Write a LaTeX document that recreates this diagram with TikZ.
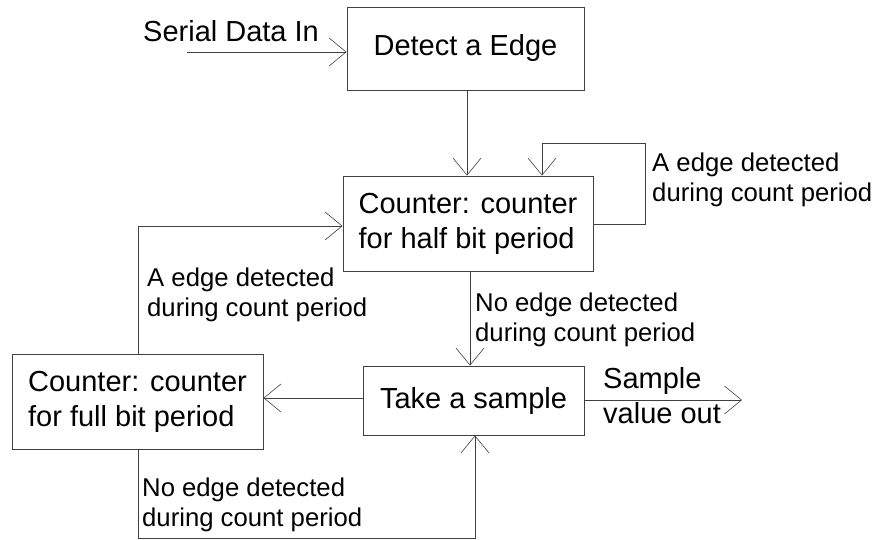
\documentclass[tikz,border=0pt]{standalone}
\usepackage{fontspec}
\setmainfont{Liberation Sans}
\usetikzlibrary{arrows.meta}

\tikzset{
  big/.style={font=\fontsize{29}{35}\selectfont},
  small/.style={font=\fontsize{25.7}{30}\selectfont},
  box/.style={draw=black!75, line width=0.9pt, fill=white, big, align=left, inner sep=0pt},
  lbl/.style={small, align=left, inner sep=0pt, anchor=north west},
  arr/.style={draw=black!75, line width=0.9pt,
    -{Straight Barb[length=17pt, width=28pt, line width=0.6pt]}},
  wire/.style={draw=black!75, line width=0.9pt}
}

\begin{document}
\begin{tikzpicture}[x=1pt, y=-1pt]
\useasboundingbox (0,0) rectangle (877,540);

% process boxes
\node[box, minimum width=237pt, minimum height=83pt] (detect) at (465.5,48.5) {Detect a Edge};
\node[box, minimum width=250pt, minimum height=95pt] (half) at (468,223.5) {Counter: counter\\for half bit period};
\node[box, minimum width=221pt, minimum height=69pt] (take) at (473.5,400.5) {Take a sample};
\node[box, minimum width=251pt, minimum height=95pt] (full) at (137.5,401.5) {Counter: counter\\for full bit period};

% free ends and bends of the connectors
\coordinate (sdin) at (187,52);
\coordinate (c1) at (467,0);
\coordinate (lp1) at (645,224);
\coordinate (lp2) at (645,143);
\coordinate (lp3) at (542,143);
\coordinate (c2) at (470,0);
\coordinate (c3) at (0,398);
\coordinate (lc) at (138,226);
\coordinate (bc1) at (138,538);
\coordinate (bc2) at (475,538);
\coordinate (out) at (742,400);

% connectors
\draw[arr] (sdin) -- (detect.west |- sdin);
\draw[arr] (detect.south -| c1) -- (half.north -| c1);
\draw[arr] (half.east |- lp1) -- (lp1) -- (lp2) -- (lp3) -- (half.north -| lp3);
\draw[arr] (half.south -| c2) -- (take.north -| c2);
\draw[arr] (take.west |- c3) -- (full.east |- c3);
\draw[arr] (full.north -| lc) -- (lc) -- (half.west |- lc);
\draw[arr] (full.south -| bc1) -- (bc1) -- (bc2) -- (take.south -| bc2);
\draw[arr] (take.east |- out) -- (out);

% labels
\node[big, inner sep=0pt, anchor=base west] (lin) at (143,42) {Serial Data In};
\node[lbl] (lloop) at (652,153) {A edge detected\\during count period};
\node[lbl] (lleft) at (147,268) {A edge detected\\during count period};
\node[lbl] (lmid) at (475,293) {No edge detected\\during count period};
\node[lbl] (lbot) at (142,478) {No edge detected\\during count period};
\node[lbl, big] (lout) at (603,367) {Sample\\value out};
\end{tikzpicture}
\end{document}
